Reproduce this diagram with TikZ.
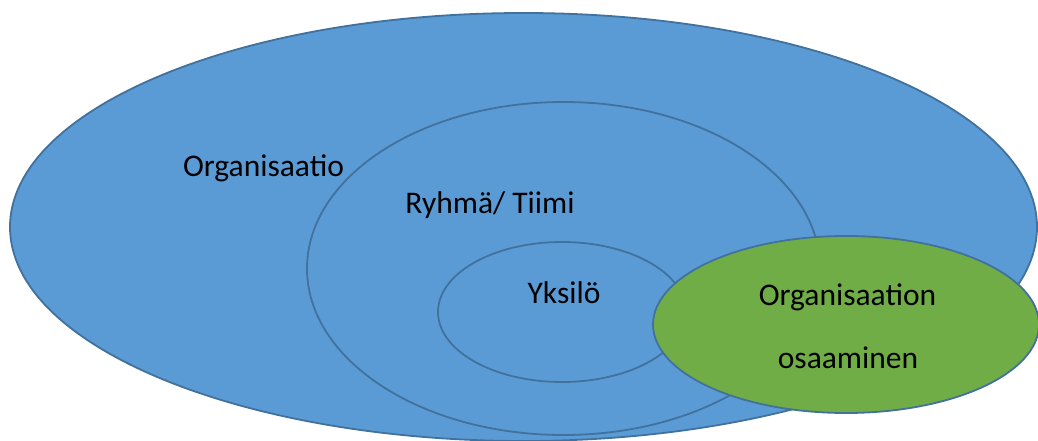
\documentclass[tikz,border=0pt]{standalone}
\usepackage{fontspec}
\setmainfont{Carlito}
\usetikzlibrary{shapes.geometric}
\definecolor{fillblue}{HTML}{5B9BD5}
\definecolor{fillgreen}{HTML}{70AD47}
\definecolor{edgeblue}{HTML}{41719C}
\tikzset{
  ring/.style={ellipse, draw=edgeblue, line width=1.8pt, fill=fillblue, inner sep=0pt, outer sep=0pt},
  label/.style={anchor=base, inner sep=0pt, font=\fontsize{31.5}{38}\selectfont, text=black}
}
\begin{document}
\begin{tikzpicture}[x=1pt, y=-1pt]
  \useasboundingbox (0,0) rectangle (1038,441);
  \fill[white] (0,0) rectangle (1038,441);

  % nested levels
  \node[ring, minimum width=1027pt, minimum height=428pt] (org)  at (523.5,227) {};
  \node[ring, minimum width=513pt,  minimum height=333pt] (team) at (563.5,268.5) {};
  \node[ring, minimum width=248pt,  minimum height=140pt] (ind)  at (562,312) {};
  % organisational competence
  \node[ring, fill=fillgreen, minimum width=386pt, minimum height=177pt] (comp) at (846,324.5) {};

  % labels
  \node[label] (torg)   at (263.5,176) {Organisaatio};
  \node[label] (tteam)  at (490,213)   {Ryhmä/ Tiimi};
  \node[label] (tind)   at (564,303)   {Yksilö};
  \node[label] (tcomp1) at (847.5,305) {Organisaation};
  \node[label] (tcomp2) at (848,368)   {osaaminen};
\end{tikzpicture}
\end{document}
